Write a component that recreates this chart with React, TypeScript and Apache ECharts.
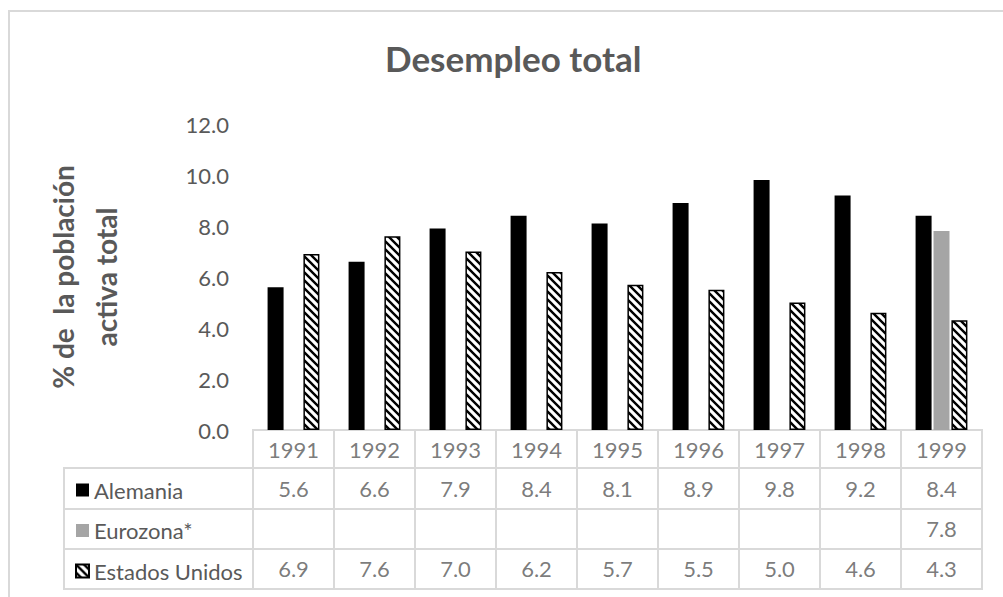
import React, { useEffect, useRef } from "react";
import * as echarts from "echarts";

const years = ["1991", "1992", "1993", "1994", "1995", "1996", "1997", "1998", "1999"];
const alemania = [5.6, 6.6, 7.9, 8.4, 8.1, 8.9, 9.8, 9.2, 8.4];
const eurozona: (number | null)[] = [null, null, null, null, null, null, null, null, 7.8];
const estadosUnidos = [6.9, 7.6, 7.0, 6.2, 5.7, 5.5, 5.0, 4.6, 4.3];
const seriesNames = ["Alemania", "Eurozona*", "Estados Unidos"];
const yTicks = { min: 0, max: 12, interval: 2 };

const FONT = 'Lato, "Noto Sans", sans-serif';
const TXT = "#595959";
const LINE = "#d9d9d9";

function makeHatch(): HTMLCanvasElement {
  const c = document.createElement("canvas");
  c.width = 8;
  c.height = 8;
  const g = c.getContext("2d")!;
  g.fillStyle = "#ffffff";
  g.fillRect(0, 0, 8, 8);
  g.strokeStyle = "#000000";
  g.lineWidth = 2.4;
  g.beginPath();
  g.moveTo(-2, -2);
  g.lineTo(10, 10);
  g.moveTo(-2, 6);
  g.lineTo(2, 10);
  g.moveTo(6, -2);
  g.lineTo(10, 2);
  g.stroke();
  return c;
}

export default function App() {
  const ref = useRef<HTMLDivElement>(null);
  useEffect(() => {
    if (!ref.current) return;
    const chart = echarts.init(ref.current, null, { renderer: "svg" });
    const hatch = { image: makeHatch(), repeat: "repeat", imageWidth: 8, imageHeight: 8 };
    const rowValues = [alemania, eurozona, estadosUnidos];

    const tableSeries: any[] = rowValues.map((vals, r) => ({
      type: "scatter",
      name: "t" + r,
      xAxisIndex: 2,
      yAxisIndex: 2,
      symbolSize: 1,
      itemStyle: { color: "transparent" },
      silent: true,
      data: vals
        .map((v, i) => (v == null ? null : [years[i], seriesNames[r], v]))
        .filter((d) => d != null),
      label: {
        show: true,
        position: "inside",
        formatter: (p: any) => Number(p.value[2]).toFixed(1),
        fontSize: 22,
        color: TXT,
        fontFamily: FONT,
      },
    }));

    const tableAxisCommon = {
      axisLine: { show: false },
      axisTick: { show: false },
      axisLabel: { show: false },
      splitLine: { show: true, interval: 0, lineStyle: { color: LINE, width: 2 } },
    };

    const option: any = {
      animation: false,
      backgroundColor: "#ffffff",
      title: {
        text: "Desempleo total",
        left: 385,
        top: 40,
        padding: 0,
        textStyle: { fontSize: 35, fontWeight: "bold", color: TXT, fontFamily: FONT },
      },
      legend: {
        data: seriesNames,
        orient: "vertical",
        left: 75,
        top: 476,
        padding: 0,
        icon: "rect",
        itemWidth: 13,
        itemHeight: 13,
        itemGap: 12.5,
        textStyle: { fontSize: 22, color: TXT, fontFamily: FONT, lineHeight: 28 },
        selectedMode: false,
      },
      graphic: [
        {
          type: "rect",
          z: -10,
          shape: { x: 9, y: 11, width: 1200, height: 800 },
          style: { fill: "none", stroke: LINE, lineWidth: 2 },
          silent: true,
        },
      ],
      grid: [
        { left: 253, right: 21, top: 124, height: 306 },
        { left: 253, right: 21, top: 430, height: 38, show: true, borderColor: LINE, borderWidth: 2 },
        { left: 253, right: 21, top: 468, height: 121, show: true, borderColor: LINE, borderWidth: 2 },
        { left: 64, width: 189, top: 468, height: 121, show: true, borderColor: LINE, borderWidth: 2 },
      ],
      xAxis: [
        {
          type: "category",
          gridIndex: 0,
          data: years,
          axisLine: { show: false },
          axisTick: { show: false },
          axisLabel: { show: false },
        },
        { type: "category", gridIndex: 1, data: years, ...tableAxisCommon },
        { type: "category", gridIndex: 2, data: years, ...tableAxisCommon },
        { type: "category", gridIndex: 3, data: [""], ...tableAxisCommon },
      ],
      yAxis: [
        {
          type: "value",
          gridIndex: 0,
          min: yTicks.min,
          max: yTicks.max,
          interval: yTicks.interval,
          splitLine: { show: false },
          axisLine: { show: false },
          axisTick: { show: false },
          axisLabel: {
            fontSize: 22,
            color: TXT,
            fontFamily: FONT,
            margin: 24,
            formatter: (v: number) => v.toFixed(1),
          },
          name: "% de  la población\nactiva total",
          nameLocation: "middle",
          nameGap: 126,
          nameTextStyle: { fontSize: 28, fontWeight: "bold", color: TXT, fontFamily: FONT, lineHeight: 43 },
        },
        { type: "category", gridIndex: 1, data: ["h"], ...tableAxisCommon },
        { type: "category", gridIndex: 2, data: seriesNames, inverse: true, ...tableAxisCommon },
        { type: "category", gridIndex: 3, data: seriesNames, inverse: true, ...tableAxisCommon },
      ],
      series: [
        {
          type: "bar",
          name: seriesNames[0],
          data: alemania,
          barWidth: 16,
          barGap: "12%",
          itemStyle: { color: "#000000" },
        },
        {
          type: "bar",
          name: seriesNames[1],
          data: eurozona,
          barWidth: 16,
          barGap: "12%",
          itemStyle: { color: "#a5a5a5" },
        },
        {
          type: "bar",
          name: seriesNames[2],
          data: estadosUnidos,
          barWidth: 16,
          barGap: "12%",
          itemStyle: { color: hatch, borderColor: "#000000", borderWidth: 1.5 },
        },
        {
          type: "scatter",
          name: "hdr",
          xAxisIndex: 1,
          yAxisIndex: 1,
          symbolSize: 1,
          itemStyle: { color: "transparent" },
          silent: true,
          data: years.map((y) => [y, "h"]),
          label: {
            show: true,
            position: "inside",
            formatter: (p: any) => p.value[0],
            fontSize: 22,
            color: TXT,
            fontFamily: FONT,
          },
        },
        ...tableSeries,
      ],
    };
    chart.setOption(option);
    return () => chart.dispose();
  }, []);
  return (
    <div
      ref={ref}
      style={{ position: "absolute", left: 0, top: 0, width: 1003, height: 597 }}
    />
  );
}
